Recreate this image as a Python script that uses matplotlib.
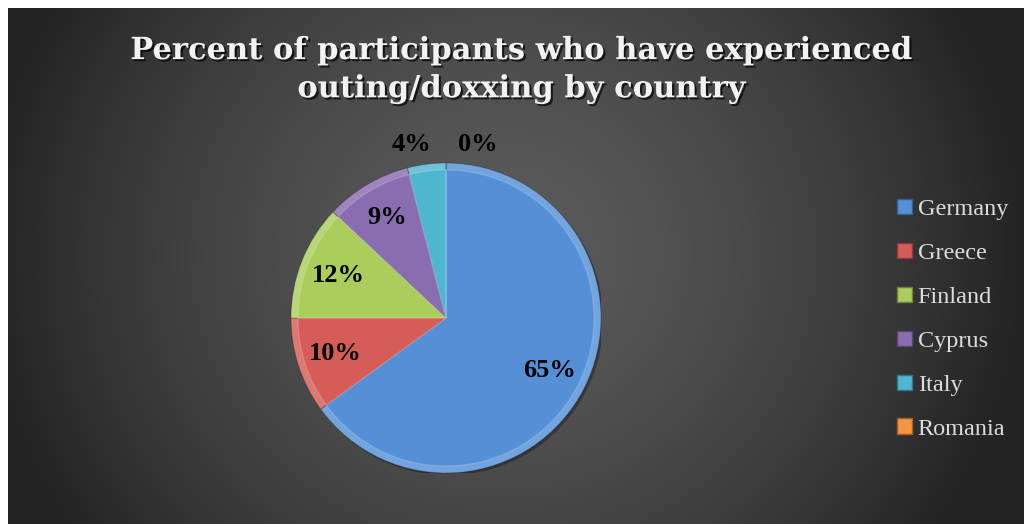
import matplotlib

matplotlib.use("Agg")
import matplotlib.pyplot as plt
import matplotlib.patheffects as pe
import numpy as np
from matplotlib.colors import to_rgb
from matplotlib.patches import Circle, Patch

countries = ["Germany", "Greece", "Finland", "Cyprus", "Italy", "Romania"]
percents = [65, 10, 12, 9, 4, 0]
colors = ["#5590d6", "#d65c57", "#aacd5c", "#8a6cb0", "#4fb6cf", "#f5953f"]
title = "Percent of participants who have experienced\nouting/doxxing by country"

W, H = 1024, 524
fig = plt.figure(figsize=(W / 100, H / 100), dpi=100)
fig.patch.set_facecolor("white")


def tint(c, f):
    rgb = np.array(to_rgb(c))
    return tuple(rgb + (1 - rgb) * f) if f > 0 else tuple(rgb * (1 + f))


# dark radial background of the chart area
bg = fig.add_axes([8 / W, 0, (W - 8) / W, (H - 8) / H])
yy, xx = np.mgrid[0:516, 0:1016]
d = np.hypot(xx - 495, (yy - 245) * 1.05)
shade = 91 - 55 * np.clip(d / 520, 0, 1) ** 1.5
bg.imshow(np.dstack([shade] * 3) / 255, aspect="auto", interpolation="bilinear")
bg.set_axis_off()

fig.text(0.509, 0.867, title, ha="center", va="center", fontsize=22,
         fontweight="bold", family="DejaVu Serif", color="#f2f2f2",
         linespacing=1.3,
         path_effects=[pe.withSimplePatchShadow(offset=(1.5, -1.5),
                                                shadow_rgbFace="black", alpha=0.7)])

# pie centred at (446, 318) px with radius 155 px
r_px = 155
cx, cy = 446, H - 318
ax = fig.add_axes([(cx - r_px) / W, (cy - r_px) / H, 2 * r_px / W, 2 * r_px / H])
ax.set_facecolor("none")
ax.add_patch(Circle((0.015, -0.015), 1.0, facecolor="black", alpha=0.3,
                    linewidth=0, zorder=0))
wedges, _ = ax.pie(percents, colors=[tint(c, 0.18) for c in colors],
                   startangle=90, counterclock=False, radius=1.0,
                   wedgeprops=dict(linewidth=0.8, edgecolor=(0, 0, 0, 0.2)))
# inner face of each slice, leaving a softly lit rim
ax.pie(percents, colors=colors, startangle=90, counterclock=False, radius=0.955,
       wedgeprops=dict(linewidth=1.0, edgecolor=(1, 1, 1, 0.15)))
ax.set_xlim(-1, 1)
ax.set_ylim(-1, 1)
ax.set_aspect("equal")

# percentage labels: inside for big slices, above the pie for tiny ones
outside_shift = {4: -25, 5: 23}
for i, w in enumerate(wedges):
    mid = np.deg2rad((w.theta1 + w.theta2) / 2)
    label = f"{percents[i]}%"
    kw = dict(fontsize=19, fontweight="bold", family="Liberation Serif",
              color="black", ha="center", va="center")
    if percents[i] >= 5:
        ax.text(0.75 * np.cos(mid), 0.75 * np.sin(mid), label, **kw)
    else:
        ax.annotate(label, xy=(0, 1.12), xytext=(outside_shift[i], 0),
                    textcoords="offset points", annotation_clip=False, **kw)

handles = [Patch(facecolor=c, edgecolor=tint(c, -0.35), linewidth=1.0) for c in colors]
leg = fig.legend(handles, countries, loc="upper left",
                 bbox_to_anchor=(897 / W, 1 - 199 / H), frameon=False,
                 borderpad=0, borderaxespad=0,
                 handlelength=0.6, handleheight=0.6, handletextpad=0.25,
                 labelspacing=0.93, prop=dict(family="Liberation Serif", size=17.5))
for t in leg.get_texts():
    t.set_color("#dcdcdc")

fig.savefig("out.png", dpi=100, facecolor=fig.get_facecolor())
